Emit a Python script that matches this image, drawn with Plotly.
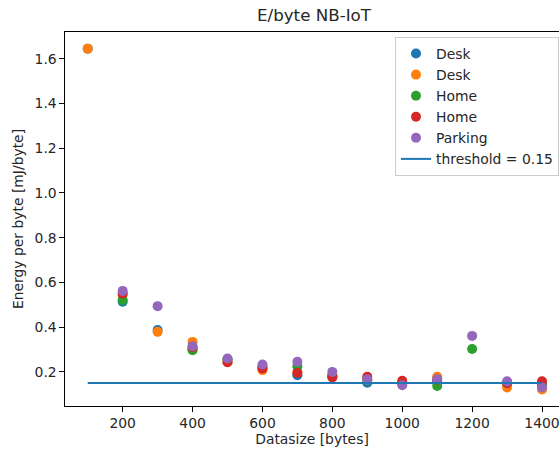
import plotly.graph_objects as go

datasize = [100, 200, 300, 400, 500, 600, 700, 800, 900, 1000, 1100, 1200, 1300, 1400]

desk_1 = [1.645, 0.514, 0.387, 0.300, 0.255, 0.220, 0.185, 0.180, 0.152, 0.150, 0.160, None, 0.150, 0.140]
desk_2 = [1.645, 0.545, 0.379, 0.334, 0.243, 0.208, 0.200, 0.180, 0.165, 0.150, 0.178, None, 0.130, 0.121]
home_1 = [None, 0.521, None, 0.297, 0.255, 0.222, 0.225, 0.185, 0.165, 0.150, 0.137, 0.302, 0.150, 0.145]
home_2 = [None, 0.550, None, 0.310, 0.243, 0.215, 0.195, 0.175, 0.178, 0.160, 0.165, None, 0.150, 0.158]
parking = [None, 0.562, 0.494, 0.315, 0.260, 0.233, 0.245, 0.200, 0.167, 0.140, 0.167, 0.361, 0.158, 0.130]

threshold_x = [100, 1400]
threshold_y = [0.15, 0.15]

series = [
    ("Desk", desk_1, "#1f77b4"),
    ("Desk", desk_2, "#ff7f0e"),
    ("Home", home_1, "#2ca02c"),
    ("Home", home_2, "#d62728"),
    ("Parking", parking, "#9467bd"),
]

FONT = "DejaVu Sans"
FS = 13.9

fig = go.Figure()
for name, vals, color in series:
    fig.add_trace(go.Scatter(
        x=datasize, y=vals, mode="markers", name=name,
        marker=dict(size=10, color=color, line=dict(width=0)),
    ))

fig.add_trace(go.Scatter(
    x=threshold_x, y=threshold_y, mode="lines", name="threshold = 0.15",
    line=dict(color="#1f77b4", width=2),
))

fig.update_layout(
    width=559, height=450,
    margin=dict(l=65, r=0, t=32, b=44),
    paper_bgcolor="white", plot_bgcolor="white",
    font=dict(family=FONT, size=FS, color="#262626"),
    title=dict(text="E/byte NB-IoT", x=314 / 559, xanchor="center",
               y=1 - 15 / 450, yanchor="middle", yref="container",
               font=dict(size=16.7, color="#262626")),
    showlegend=True,
    legend=dict(x=1.0, xanchor="right", y=0.9866, yanchor="top",
                bgcolor="rgba(255,255,255,0.8)", bordercolor="#cccccc", borderwidth=1,
                font=dict(size=FS)),
)

fig.update_xaxes(
    range=[35, 1448.6], showgrid=False, zeroline=False,
    showline=True, linecolor="black", linewidth=1.1, mirror=True,
    ticks="outside", ticklen=4.5, tickwidth=1.1, tickcolor="black",
    tickfont=dict(size=FS), ticklabeloverflow="allow",
    tickvals=[200, 400, 600, 800, 1000, 1200, 1400],
    title=dict(text="Datasize [bytes]", standoff=3, font=dict(size=FS)),
)
fig.update_yaxes(
    range=[0.0475, 1.7195], showgrid=False, zeroline=False,
    showline=True, linecolor="black", linewidth=1.1, mirror=False,
    ticks="outside", ticklen=4.5, tickwidth=1.1, tickcolor="black",
    tickfont=dict(size=FS),
    tickvals=[0.2, 0.4, 0.6, 0.8, 1.0, 1.2, 1.4, 1.6], tickformat=".1f",
    title=dict(text="Energy per byte [mJ/byte]", standoff=7, font=dict(size=FS)),
)

fig.write_html(
    "out.html",
    config={"displayModeBar": False},
    post_script="document.body.style.margin='0';document.body.style.overflow='hidden';",
)
